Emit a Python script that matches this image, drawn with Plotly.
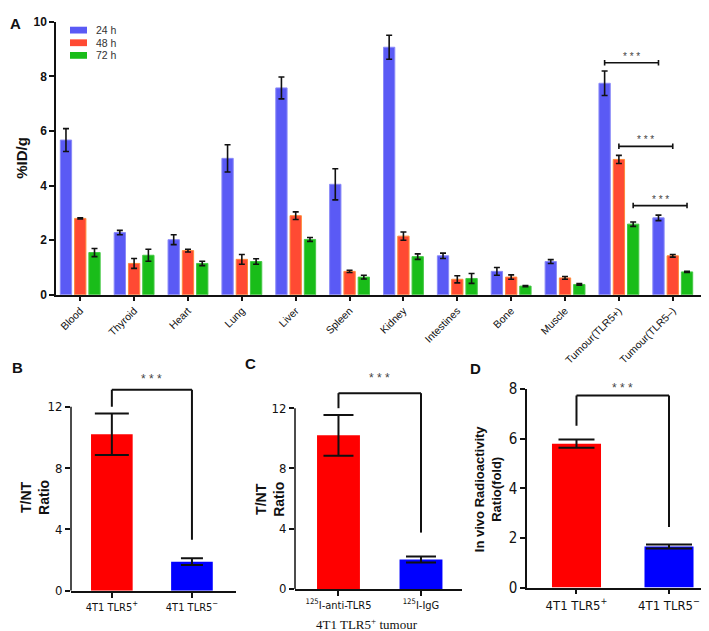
import plotly.graph_objects as go

# ---------------- Data ----------------
organs = ["Blood", "Thyroid", "Heart", "Lung", "Liver", "Spleen", "Kidney",
          "Intestines", "Bone", "Muscle", "Tumour(TLR5+)", "Tumour(TLR5–)"]
series_names = ["24 h", "48 h", "72 h"]
v24 = [5.67, 2.28, 2.02, 5.00, 7.58, 4.05, 9.07, 1.43, 0.86, 1.22, 7.75, 2.82]
e24 = [0.42, 0.08, 0.18, 0.50, 0.40, 0.57, 0.44, 0.10, 0.14, 0.07, 0.45, 0.10]
v48 = [2.80, 1.15, 1.62, 1.30, 2.90, 0.86, 2.15, 0.57, 0.65, 0.62, 4.96, 1.43]
e48 = [0.02, 0.18, 0.05, 0.18, 0.14, 0.04, 0.15, 0.13, 0.08, 0.05, 0.15, 0.05]
v72 = [1.55, 1.45, 1.15, 1.22, 2.03, 0.65, 1.40, 0.60, 0.32, 0.38, 2.59, 0.84]
e72 = [0.15, 0.22, 0.08, 0.10, 0.07, 0.07, 0.10, 0.18, 0.02, 0.03, 0.08, 0.02]
sig_a_levels = [8.5, 5.44, 3.27]   # bracket heights (%ID/g)

b_labels = ["4T1 TLR5<sup>+</sup>", "4T1 TLR5<sup>−</sup>"]
b_vals = [10.2, 1.9]
b_errs = [1.35, 0.22]

c_labels = ["<sup>125</sup>I-anti-TLR5", "<sup>125</sup>I-IgG"]
c_vals = [10.2, 1.95]
c_errs = [1.35, 0.2]

d_labels = ["4T1 TLR5<sup>+</sup>", "4T1 TLR5<sup>−</sup>"]
d_vals = [5.8, 1.65]
d_errs = [0.17, 0.08]

# ---------------- Styling ----------------
W, H = 709, 631
def px(x):
    return x / W
def py(y):
    return 1 - y / H

A_COLORS = ["#5a5af5", "#ff4a33", "#19bd19"]
A_LINES = ["#8a8af8", "#ff8a3a", "#45c845"]
OFFS = [-0.265, 0.0, 0.265]
BW = 0.21
SANS = "Liberation Sans, Arial, sans-serif"
NARROW = "Liberation Sans Narrow, Arial Narrow, DejaVu Sans Condensed, sans-serif"
SERIF = "Liberation Serif, Times New Roman, serif"

fig = go.Figure()

# ---------- Panel A ----------
vals_all = [v24, v48, v72]
errs_all = [e24, e48, e72]
idx = list(range(len(organs)))
for s in range(3):
    fig.add_trace(go.Bar(
        x=idx, y=vals_all[s], width=BW, offset=OFFS[s] - BW / 2,
        name=series_names[s], marker=dict(color=A_COLORS[s], line=dict(color=A_LINES[s], width=1)),
        error_y=dict(type="data", array=errs_all[s], color="#111", thickness=1.6, width=3),
        xaxis="x", yaxis="y", showlegend=False))

# significance brackets panel A
shapes = []
annos = []
cap = 0.1
for s in range(3):
    x0 = 10 + OFFS[s]
    x1 = 11 + OFFS[s]
    yv = sig_a_levels[s]
    shapes.append(dict(type="line", xref="x", yref="y", x0=x0, x1=x1, y0=yv, y1=yv,
                       line=dict(color="#111", width=1.6)))
    for xx in (x0, x1):
        shapes.append(dict(type="line", xref="x", yref="y", x0=xx, x1=xx, y0=yv - cap, y1=yv + cap,
                           line=dict(color="#111", width=1.6)))
    annos.append(dict(x=(x0 + x1) / 2, y=yv, xref="x", yref="y", text="* * *", showarrow=False,
                      yanchor="bottom", yshift=-1, font=dict(family=SANS, size=10, color="#444")))

# legend panel A (custom)
leg_y = [13.5, 26.5, 39.5]
for s in range(3):
    shapes.append(dict(type="rect", xref="paper", yref="paper", x0=px(62), x1=px(79),
                       y0=py(leg_y[s] + 3.5), y1=py(leg_y[s] - 3.5),
                       fillcolor=A_COLORS[s], line=dict(width=0)))
    annos.append(dict(x=px(86), y=py(leg_y[s]), xref="paper", yref="paper", text=series_names[s],
                      showarrow=False, xanchor="left", yanchor="middle",
                      font=dict(family=SANS, size=10.5, color="#333")))

# ---------- Panels B, C, D ----------
def add_pair(labels, vals, errs, xa, ya, bw, capw, colors=("#ff0000", "#0000ff")):
    for i in range(2):
        fig.add_trace(go.Bar(
            x=[i], y=[vals[i]], width=bw, marker=dict(color=colors[i], line=dict(width=0)),
            error_y=dict(type="data", array=[errs[i]], color="#111", thickness=2, width=capw[i]),
            xaxis=xa, yaxis=ya, showlegend=False))

add_pair(b_labels, b_vals, b_errs, "x2", "y2", 0.52, [17, 11])
add_pair(c_labels, c_vals, c_errs, "x3", "y3", 0.52, [15, 15])
add_pair(d_labels, d_vals, d_errs, "x4", "y4", 0.53, [18, 23])

def bracket(xa, ya, top, left_end, right_end, shift):
    for seg in [(0, 0, left_end, top), (0, 1, top, top), (1, 1, top, right_end)]:
        shapes.append(dict(type="line", xref=xa, yref=ya, x0=seg[0], x1=seg[1], y0=seg[2], y1=seg[3],
                           line=dict(color="#111", width=2)))
    annos.append(dict(x=0.5, y=top, xref=xa, yref=ya, text="* * *", showarrow=False,
                      yanchor="bottom", yshift=shift, font=dict(family=SANS, size=12, color="#444")))

bracket("x2", "y2", 13.1, 12.0, 3.33, 2)
bracket("x3", "y3", 13.0, 12.0, 3.74, 6)
bracket("x4", "y4", 7.74, 6.52, 2.44, -1)

# manual y-axis lines for B and C (range extends above 12)
for xa, ya in (("x2", "y2"), ("x3", "y3")):
    shapes.append(dict(type="line", xref=xa + " domain", yref=ya, x0=0, x1=0, y0=0, y1=12,
                       line=dict(color="#111", width=1.5)))

# panel letters
for letter, (lx, ly) in zip("ABCD", [(7.5, 7), (9, 361), (242, 357), (467, 362)]):
    annos.append(dict(x=px(lx), y=py(ly), xref="paper", yref="paper", text="<b>%s</b>" % letter,
                      showarrow=False, xanchor="center", yanchor="middle",
                      font=dict(family=SANS, size=15, color="#111")))

# y titles
ytitles = [("<b>%ID/g</b>", 14, 145, 15),
           ("<b>T/NT<br>Ratio</b>", 27, 495, 14),
           ("<b>T/NT<br>Ratio</b>", 262, 497, 14),
           ("<b>In vivo Radioactivity<br>Ratio(fold)</b>", 480, 486, 13)]
for t, tx, ty, fs in ytitles:
    annos.append(dict(x=px(tx), y=py(ty), xref="paper", yref="paper", text=t, textangle=-90,
                      showarrow=False, xanchor="center", yanchor="middle",
                      font=dict(family=SANS, size=fs, color="#111")))

# panel C x title
annos.append(dict(x=px(359), y=py(625), xref="paper", yref="paper",
                  text="4T1 TLR5<sup>+</sup> tumour", showarrow=False, xanchor="center", yanchor="middle",
                  font=dict(family=SERIF, size=13, color="#111")))

axis_common = dict(showgrid=False, zeroline=False, ticks="outside", linecolor="#111",
                   tickcolor="#111", linewidth=1.5, tickwidth=1.5)

fig.update_layout(
    width=W, height=H, margin=dict(l=0, r=0, t=0, b=0),
    plot_bgcolor="white", paper_bgcolor="white", barmode="overlay",
    shapes=shapes, annotations=annos,
    xaxis=dict(domain=[px(48), px(696)], range=[-0.45, 11.58], tickvals=idx, ticktext=organs,
               tickangle=-45, showline=True, ticklen=4,
               tickfont=dict(family=SANS, size=10.5, color="#111"), anchor="y", **axis_common),
    yaxis=dict(domain=[py(286), py(5)], range=[0, 10], dtick=2, showline=True, ticklen=5,
               tickfont=dict(family=SANS, size=12, color="#111", weight="bold"), anchor="x",
               **axis_common),
    xaxis2=dict(domain=[px(63), px(228)], range=[-0.51, 1.55], tickvals=[0, 1], ticktext=b_labels,
                showline=True, ticklen=5, tickangle=0,
                tickfont=dict(family=NARROW, size=11, color="#111"), anchor="y2", **axis_common),
    yaxis2=dict(domain=[py(590.7), py(590.7 - 14.2 * 15.8)], range=[0, 14.2], tickvals=[0, 4, 8, 12],
                showline=False, ticklen=5,
                tickfont=dict(family=NARROW, size=13, color="#111"), anchor="x2", **axis_common),
    xaxis3=dict(domain=[px(287), px(454)], range=[-0.527, 1.497], tickvals=[0, 1], ticktext=c_labels,
                showline=True, ticklen=5, tickangle=0,
                tickfont=dict(family=NARROW, size=11, color="#111"), anchor="y3", **axis_common),
    yaxis3=dict(domain=[py(588.7), py(588.7 - 14.2 * 15.5)], range=[0, 14.2], tickvals=[0, 4, 8, 12],
                showline=False, ticklen=5,
                tickfont=dict(family=NARROW, size=13, color="#111"), anchor="x3", **axis_common),
    xaxis4=dict(domain=[px(519), px(708)], range=[-0.535, 1.508], tickvals=[0, 1], ticktext=d_labels,
                showline=True, ticklen=5, tickangle=0,
                tickfont=dict(family=NARROW, size=13, color="#111"), anchor="y4", **axis_common),
    yaxis4=dict(domain=[py(587.3), py(383)], range=[0, 8], tickvals=[0, 2, 4, 6, 8],
                showline=True, ticklen=5,
                tickfont=dict(family=NARROW, size=15, color="#111"), anchor="x4", **axis_common),
)

fig.write_html("out.html")
